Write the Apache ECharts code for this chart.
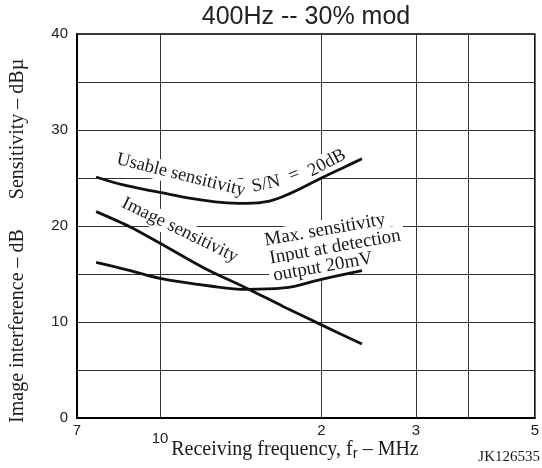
<!DOCTYPE html>
<html>
<head>
<meta charset="utf-8">
<script src="https://cdn.jsdelivr.net/npm/echarts@6/dist/echarts.min.js"></script>
<style>html,body{margin:0;padding:0;background:#fff}#c{width:542px;height:468px}</style>
</head>
<body>
<div id="c"></div>
<script>
// Frequencies in MHz (log axis), values in dB / dBµ
const gridFreqs = [10, 20, 30, 37.5];
const tickFreqs = [7, 10, 20, 30, 50];
const tickText = ['7', '10', '2', '3', '5'];
const yTicks = [0, 10, 20, 30, 40];

const usableFreq = [7.6, 8.5, 10, 11.5, 13, 14.5, 16, 17.5, 20, 22, 23.8];
const usableVal  = [25.1, 24.3, 23.5, 22.85, 22.45, 22.35, 22.6, 23.4, 25.0, 26.1, 27.0];

const imageFreq = [7.6, 8.8, 10, 12.1, 14.4, 17, 20, 23.8];
const imageVal  = [21.5, 19.9, 18.2, 15.6, 13.6, 11.6, 9.7, 7.7];

const maxFreq = [7.6, 8.8, 10, 12.4, 14.5, 17, 20, 23.8];
const maxVal  = [16.2, 15.35, 14.55, 13.75, 13.4, 13.55, 14.45, 15.35];

const pairs = (xs, ys) => xs.map((x, i) => [x, ys[i]]);

const SERIF = '"Liberation Serif", "Times New Roman", serif';
const SANS = '"Liberation Sans", Arial, sans-serif';

function label(text, x, y, deg, size, pad) {
  return {
    type: 'text', x: x, y: y, rotation: deg * Math.PI / 180, z: 1,
    style: {
      text: text, x: 0, y: 0, align: 'center', verticalAlign: 'middle',
      font: (size || 18) + 'px ' + SERIF, fill: '#1a1a1a',
      backgroundColor: '#fff', padding: pad || [1, 4]
    }
  };
}

const chart = echarts.init(document.getElementById('c'), null, {renderer: 'canvas'});
const lineStyle = {color: '#111', width: 2.8};
chart.setOption({
  animation: false,
  backgroundColor: '#fff',
  grid: {left: 77, right: 2, top: 34, bottom: 50, show: true, borderColor: '#000', borderWidth: 1.5, backgroundColor: 'transparent'},
  xAxis: {
    type: 'log', logBase: 10, min: 7, max: 50,
    axisLine: {show: true, lineStyle: {color: '#000', width: 2}},
    axisTick: {show: false, customValues: gridFreqs},
    splitLine: {show: true, lineStyle: {color: '#333', width: 1}},
    axisLabel: {
      customValues: tickFreqs, margin: 5, color: '#222', fontSize: 15, fontFamily: SANS,
      formatter: function (v) {
        const i = tickFreqs.findIndex(t => Math.abs(t - v) < 1e-6);
        const s = i >= 0 ? tickText[i] : '';
        return s === '10' ? '{low|10}' : s;
      },
      rich: {low: {fontSize: 15, fontFamily: SANS, color: '#222', padding: [8, 0, 0, 0]}}
    }
  },
  yAxis: {
    type: 'value', min: 0, max: 40, interval: 5,
    axisLine: {show: true, lineStyle: {color: '#000', width: 2}},
    axisTick: {show: false},
    splitLine: {show: true, lineStyle: {color: '#333', width: 1}},
    axisLabel: {
      margin: 9, color: '#222', fontSize: 15, fontFamily: SANS,
      formatter: v => yTicks.indexOf(v) >= 0 ? String(v) : ''
    }
  },
  series: [
    {type: 'line', data: pairs(usableFreq, usableVal), smooth: 0.4, symbol: 'none', lineStyle: lineStyle, z: 3},
    {type: 'line', data: pairs(imageFreq, imageVal), smooth: 0.3, symbol: 'none', lineStyle: lineStyle, z: 3},
    {type: 'line', data: pairs(maxFreq, maxVal), smooth: 0.4, symbol: 'none', lineStyle: lineStyle, z: 3}
  ],
  graphic: [
    {type: 'text', x: 306, y: 17, z: 1, style: {text: '400Hz -- 30% mod', align: 'center', verticalAlign: 'middle', font: '25px ' + SANS, fill: '#222'}},
    {type: 'text', x: 18, y: 129, rotation: Math.PI / 2, z: 1, style: {text: 'Sensitivity – dBµ', align: 'center', verticalAlign: 'middle', font: '20px ' + SERIF, fill: '#1a1a1a'}},
    {type: 'text', x: 18, y: 326, rotation: Math.PI / 2, z: 1, style: {text: 'Image interference – dB', align: 'center', verticalAlign: 'middle', font: '20px ' + SERIF, fill: '#1a1a1a'}},
    {type: 'text', x: 295, y: 450, z: 1, style: {
      text: 'Receiving frequency, f{sub|r} – MHz', align: 'center', verticalAlign: 'middle',
      font: '20px ' + SERIF, fill: '#1a1a1a',
      rich: {sub: {font: '15px ' + SANS, fill: '#1a1a1a', padding: [8, 0, 0, 0]}}
    }},
    {type: 'text', x: 540, y: 457, z: 1, style: {text: 'JK126535', align: 'right', verticalAlign: 'middle', font: '15px ' + SERIF, fill: '#1a1a1a'}},
    label('Usable sensitivity', 181, 175, -14, 18.5, [1, 7]),
    label('S/N', 266, 184, 12, 18.5, [1, 7]),
    label('=', 294, 175, 22, 18.5, [1, 6]),
    label('20dB', 327, 163, 28, 18.5, [1, 5]),
    label('Image sensitivity', 180, 230, -26, 18.5),
    label('Max. sensitivity', 325, 230, 10, 19),
    label('Input at detection', 335, 247, 10, 19),
    label('output 20mV', 323, 267, 10, 19)
  ]
});
</script>
</body>
</html>
